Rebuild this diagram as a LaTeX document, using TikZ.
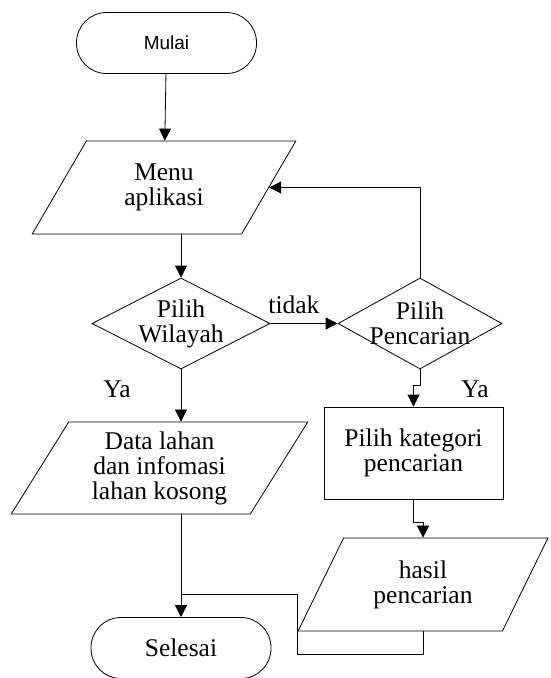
\documentclass[tikz,border=0pt]{standalone}
\usepackage{fontspec}
\setmainfont{Liberation Serif}
\newfontfamily\mulaifont{Liberation Sans}
\usetikzlibrary{arrows.meta, shapes.geometric, positioning, calc}

\begin{document}
\begin{tikzpicture}[x=1pt,y=-1pt,line width=0.8pt,
  font=\fontsize{25.5}{25}\selectfont,
  terminal/.style={draw,rectangle,rounded corners=30pt,minimum width=180pt,minimum height=61pt,inner sep=0pt},
  io/.style={draw,trapezium,trapezium left angle=60,trapezium right angle=120,trapezium stretches=true,align=center,inner sep=1pt},
  keputusan/.style={draw,diamond,minimum width=#1,minimum height=91pt,inner sep=0pt},
  teks/.style={align=center,inner sep=0pt},
  proses/.style={draw,rectangle,align=center,minimum width=179pt,minimum height=92pt},
  panah/.style={-{Triangle[length=12pt,width=12pt]}}]
\useasboundingbox (0,0) rectangle (551,678);
% simbol
\node[terminal] (mulai) at (166.5,43) {\mulaifont\fontsize{19}{22}\selectfont Mulai};
\node[io,minimum width=264pt,minimum height=93pt] (menu) at (164,187.5) {Menu\\aplikasi};
\node[keputusan=178pt,label={[teks]center:{Pilih\\Wilayah}}] (wil) at (181,323.5) {};
\node[keputusan=164pt,label={[teks]center:{Pilih\\Pencarian}}] (pen) at (420,323.5) {};
\node[io,minimum width=297pt,minimum height=92pt] (data) at (159.5,468) {Data lahan\\dan infomasi\\lahan kosong};
\node[proses] (kat) at (413.5,453) {Pilih kategori\\pencarian};
\node[io,minimum width=250pt,minimum height=93pt] (hasil) at (423,584.5) {hasil\\pencarian};
\node[terminal] (selesai) at (181,648) {Selesai};
\node (ya1) at ($(wil.south)+(-64,20)$) {Ya};
\node (ya2) at ($(pen.south)+(55,20)$) {Ya};
\coordinate (gabung) at ($(selesai.north)+(0,-23)$);
% alur
\draw[panah] (mulai) -- (menu);
\draw[panah] (wil.north |- menu.south) -- (wil.north);
\draw[panah] (wil.east) -- node[above=6pt,pos=0.35] {tidak} (pen.west);
\draw[panah] (pen.north) |- (menu.east);
\draw[panah] (wil.south) -- (wil.south |- data.north);
\draw[panah] (pen.south) -- ++(0,16) -| (kat.north);
\draw[panah] (kat.south) -- ++(0,23) -| (hasil.north);
\draw[panah] (selesai.north |- data.south) -- (selesai.north);
\draw (hasil.south) -- ++(0,23) -| (hasil.bottom left corner |- gabung) -- (gabung);
\end{tikzpicture}
\end{document}
